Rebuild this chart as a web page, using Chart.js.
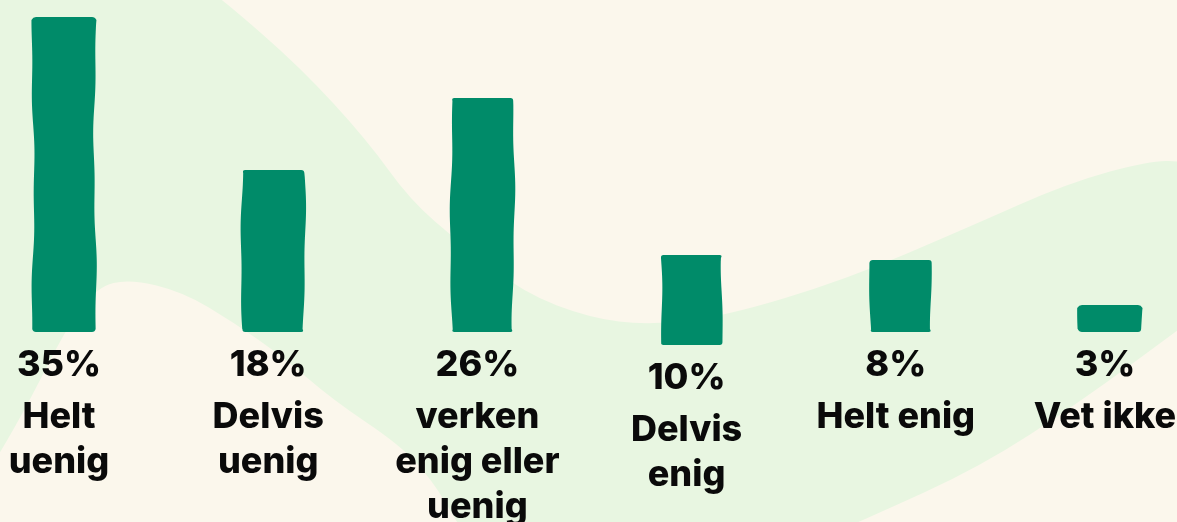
<!DOCTYPE html>
<html>
<head>
<meta charset="utf-8">
<script src="https://cdn.jsdelivr.net/npm/chart.js@4.4.1/dist/chart.umd.min.js"></script>
<style>
  html, body { margin: 0; padding: 0; background: #fbf7ec; }
  #wrap { width: 1177px; height: 522px; }
</style>
</head>
<body>
<div id="wrap"><canvas id="agreeChart" width="1177" height="522"></canvas></div>
<script>
// survey answers
const categories = [["Helt", "uenig"], ["Delvis", "uenig"], ["verken", "enig eller", "uenig"], ["Delvis", "enig"], ["Helt enig"], ["Vet ikke"]];
const shares = [35, 18, 26, 10, 8, 3];
const shareLabels = ["35%", "18%", "26%", "10%", "8%", "3%"];

// look
const barGreen = "#008b69";
const bgCream = "#fbf7ec";
const bgGreen = "#e8f6e1";
const textColor = "#0a0a0a";
const barDrop = [0, 0, 0, 13, 0, 0]; // the 4th bar sits a little lower in the original

function smoothPath(ctx, pts) {
  ctx.moveTo(pts[0][0], pts[0][1]);
  for (let i = 1; i < pts.length - 1; i++) {
    const mx = (pts[i][0] + pts[i + 1][0]) / 2;
    const my = (pts[i][1] + pts[i + 1][1]) / 2;
    ctx.quadraticCurveTo(pts[i][0], pts[i][1], mx, my);
  }
  const last = pts[pts.length - 1];
  ctx.lineTo(last[0], last[1]);
}

// background waves
const backdrop = {
  id: "backdrop",
  beforeDraw(chart) {
    const ctx = chart.ctx;
    const w = chart.width, h = chart.height;
    ctx.save();
    ctx.fillStyle = bgGreen;
    ctx.fillRect(0, 0, w, h);
    ctx.fillStyle = bgCream;

    ctx.beginPath();
    smoothPath(ctx, [[215, -5], [223, 0], [300, 67], [367, 140], [410, 200], [460, 243], [524, 293],
      [590, 318], [648, 325], [722, 317], [845, 280], [969, 227], [1068, 183], [1152, 160], [w + 8, 162]]);
    ctx.lineTo(w + 8, -5);
    ctx.closePath();
    ctx.fill();

    ctx.beginPath();
    smoothPath(ctx, [[-5, 460], [0, 453], [30, 400], [67, 327], [97, 287], [130, 279], [183, 292],
      [233, 322], [283, 357], [333, 400], [400, 445], [432, 480], [457, 522], [462, h + 8]]);
    ctx.lineTo(-5, h + 8);
    ctx.closePath();
    ctx.fill();

    ctx.beginPath();
    smoothPath(ctx, [[840, h + 8], [868, 518], [980, 467], [1080, 402], [w + 8, 325]]);
    ctx.lineTo(w + 8, h + 8);
    ctx.closePath();
    ctx.fill();
    ctx.restore();
  }
};

// hand-drawn edge drift
function wob(t, seed) {
  return 1.3 * Math.sin(t / 43 + seed * 1.7) + 0.6 * Math.sin(t / 14 + seed * 2.9);
}

function drawWobblyBar(ctx, x, top, bottom, w, seed) {
  const left = x - w / 2, right = x + w / 2, r = 3;
  const hgt = bottom - top;
  const steps = Math.max(4, Math.round(hgt / 4));
  ctx.beginPath();
  ctx.moveTo(left + r, top);
  ctx.lineTo(right - r, top);
  ctx.quadraticCurveTo(right, top, right + wob(0, seed), top + r);
  for (let i = 1; i <= steps; i++) {
    const y = top + r + (hgt - 2 * r) * i / steps;
    ctx.lineTo(right + wob(y - top, seed), y);
  }
  ctx.quadraticCurveTo(right, bottom, right - r, bottom);
  ctx.lineTo(left + r, bottom);
  ctx.quadraticCurveTo(left, bottom, left + wob(hgt, seed + 5), bottom - r);
  for (let i = steps; i >= 0; i--) {
    const y = top + r + (hgt - 2 * r) * i / steps;
    ctx.lineTo(left + wob(y - top, seed + 5), y);
  }
  ctx.quadraticCurveTo(left, top, left + r, top);
  ctx.closePath();
  ctx.fill();
}

const inkBars = {
  id: "inkBars",
  afterDatasetsDraw(chart) {
    const ctx = chart.ctx;
    const meta = chart.getDatasetMeta(0);
    ctx.save();
    ctx.fillStyle = barGreen;
    meta.data.forEach((el, i) => {
      const p = el.getProps(["x", "y", "base", "width"], true);
      const d = barDrop[i] || 0;
      drawWobblyBar(ctx, p.x, p.y + d, p.base + d, p.width, i * 3 + 1);
    });

    ctx.fillStyle = textColor;
    ctx.textAlign = "center";
    ctx.textBaseline = "alphabetic";
    ctx.font = "800 36px Inter";
    meta.data.forEach((el, i) => {
      const p = el.getProps(["x", "base"], true);
      const base = p.base + (barDrop[i] || 0);
      const cx = p.x - 5;
      ctx.fillText(shareLabels[i], cx, base + 44);
      categories[i].forEach((line, j) => {
        ctx.fillText(line, cx, base + 96 + j * 45);
      });
    });
    ctx.restore();
  }
};

const chart = new Chart(document.getElementById("agreeChart").getContext("2d"), {
  type: "bar",
  data: {
    labels: categories,
    datasets: [{
      data: shares,
      backgroundColor: "rgba(0,0,0,0)",
      barThickness: 62,
      clip: false
    }]
  },
  options: {
    responsive: false,
    animation: false,
    layout: { padding: { left: 64, right: 67, top: 8, bottom: 190 } },
    plugins: { legend: { display: false }, tooltip: { enabled: false } },
    scales: {
      x: { display: false, offset: false, grid: { display: false } },
      y: { display: false, min: 0, max: 36 }
    }
  },
  plugins: [backdrop, inkBars]
});
</script>
</body>
</html>
